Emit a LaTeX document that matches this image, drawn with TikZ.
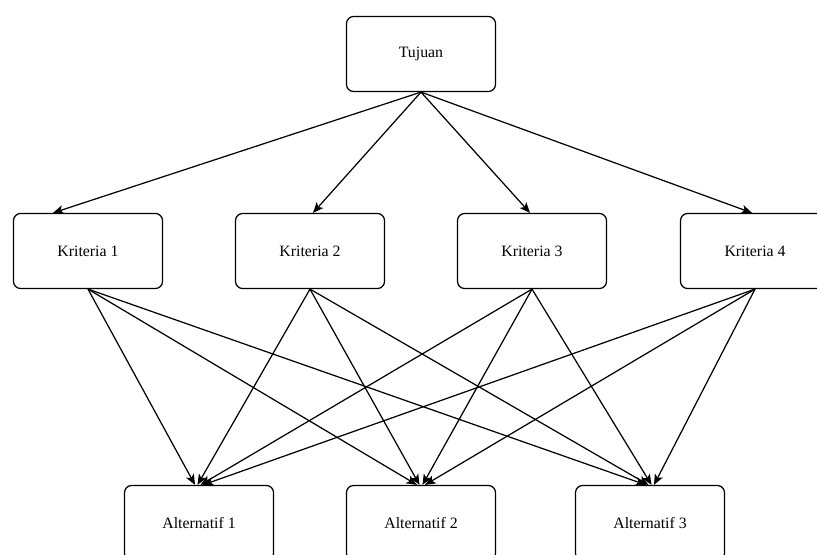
\documentclass[tikz,border=0pt]{standalone}
\usepackage{fontspec}
\setmainfont{Liberation Serif}
\usetikzlibrary{arrows,arrows.meta,positioning}

\begin{document}
\begin{tikzpicture}[x=0.02cm,y=-0.02cm,line width=0.7pt]
\tikzset{box/.style={draw, rounded corners=4pt, minimum width=2.98cm, minimum height=1.5cm, font=\fontsize{9}{11}\selectfont},
  arr/.style={-{Stealth[length=6pt,width=5pt,inset=1.5pt]}}}
\useasboundingbox (0,0) rectangle (817,554);

\node[box] at (421, 54)   (tujuan) {Tujuan};

\node[box] at (88, 251)   (kritA) {Kriteria 1};
\node[box] at (310, 251)   (kritB) {Kriteria 2};
\node[box] at (532, 251)   (kritC) {Kriteria 3};
\node[box] at (755, 251)   (kritD) {Kriteria 4};

\node[box] at (199, 523)   (altA) {Alternatif 1};
\node[box] at (421, 523)   (altB) {Alternatif 2};
\node[box] at (650, 523)   (altC) {Alternatif 3};

\draw[arr](tujuan.south) -- ([xshift=-0.7cm]kritA.north);
\draw[arr](tujuan.south) -- ([xshift=0.06cm]kritB.north);
\draw[arr](tujuan.south) -- ([xshift=-0.04cm]kritC.north);
\draw[arr](tujuan.south) -- ([xshift=-0.06cm]kritD.north);

\draw[arr](kritA.south) -- ([xshift=-0.08cm]altA.north);
\draw[arr](kritA.south) -- ([xshift=-0.08cm]altB.north);
\draw[arr](kritA.south) -- ([xshift=-0.08cm]altC.north);

\draw[arr](kritB.south) -- ([xshift=-0.03cm]altA.north);
\draw[arr](kritB.south) -- ([xshift=-0.03cm]altB.north);
\draw[arr](kritB.south) -- ([xshift=-0.03cm]altC.north);

\draw[arr](kritC.south) -- ([xshift=0.03cm]altA.north);
\draw[arr](kritC.south) -- ([xshift=0.03cm]altB.north);
\draw[arr](kritC.south) -- ([xshift=0.03cm]altC.north);

\draw[arr](kritD.south) -- ([xshift=0.08cm]altA.north);
\draw[arr](kritD.south) -- ([xshift=0.08cm]altB.north);
\draw[arr](kritD.south) -- ([xshift=0.08cm]altC.north);

\end{tikzpicture}
\end{document}
